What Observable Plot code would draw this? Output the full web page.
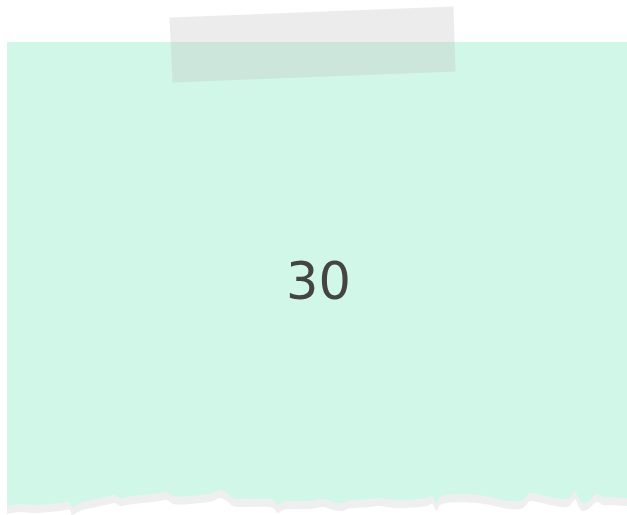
<!DOCTYPE html>
<html>
<head>
<meta charset="utf-8">
<script src="https://cdn.jsdelivr.net/npm/d3@7"></script>
<script src="https://cdn.jsdelivr.net/npm/@observablehq/plot@0.6"></script>
<style>
  html, body { margin: 0; padding: 0; background: #fff; }
  #chart svg { display: block; }
</style>
</head>
<body>
<div id="chart"></div>
<script>
// Displayed value
const value = 30;

// Note geometry (pixel space)
const noteLeft = 7;
const noteRight = 627;
const noteTop = 42;

// Torn bottom edge of the note
const edgeX = [7, 20, 33, 60, 70, 72, 80, 110, 115, 120, 127, 160, 167, 173, 200, 213, 220, 227, 233, 273, 278, 283, 300, 310, 323, 333, 343, 347, 370, 377, 397, 427, 432, 437, 440, 477, 510, 523, 530, 537, 567, 572, 575, 578, 582, 587, 597, 603, 613, 623, 627];
const edgeY = [506, 504, 505, 503, 502, 507, 503, 496, 495, 498, 497, 493, 492, 496, 495, 493, 490, 493, 498, 500, 505, 502, 501, 501, 499, 502, 503, 501, 499, 498, 500, 498, 496, 503, 497, 495, 501, 500, 493, 494, 499, 495, 491, 497, 503, 502, 494, 497, 497, 498, 498];

// Tape corners
const tapeX = [169, 453, 455, 172, 169];
const tapeY = [17, 6, 71, 82, 17];

const edge = edgeX.map((x, i) => ({x, y: edgeY[i]}));
const tape = tapeX.map((x, i) => ({x, y: tapeY[i]}));

const W = 627, H = 515;

const chart = Plot.plot({
  width: W,
  height: H,
  margin: 0,
  x: {domain: [0, W], range: [0, W], axis: null},
  y: {domain: [0, H], range: [0, H], axis: null},
  style: {background: "#fff"},
  marks: [
    // shadow of torn edge
    Plot.areaY(edge, {x: "x", y1: noteTop + 6, y2: d => d.y + 8, curve: "catmull-rom", fill: "#efefef"}),
    // note body
    Plot.areaY(edge, {x: "x", y1: noteTop, y2: "y", curve: "catmull-rom", fill: "#d0f7e8"}),
    // tape
    Plot.line(tape, {x: "x", y: "y", fill: "rgba(196,196,196,0.32)", stroke: "none"}),
    // value
    Plot.text([value], {x: () => 318, y: () => 282, text: d => String(d), fontSize: 51, fill: "#444", fontFamily: "DejaVu Sans", textAnchor: "middle"})
  ]
});
document.getElementById("chart").append(chart);
</script>
</body>
</html>
